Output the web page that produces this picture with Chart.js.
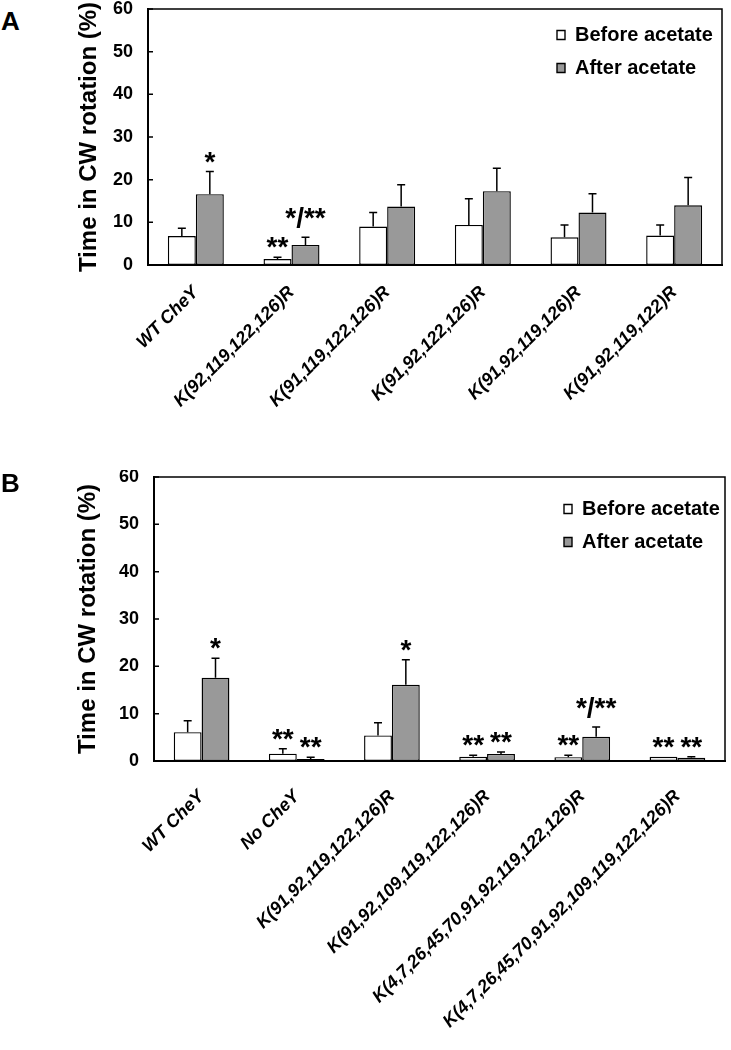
<!DOCTYPE html>
<html>
<head>
<meta charset="utf-8">
<script src="https://cdn.jsdelivr.net/npm/chart.js@4.4.1/dist/chart.umd.min.js"></script>
<style>
  body { margin: 0; background: #fff; }
  #wrap { position: relative; width: 731px; height: 1050px; overflow: hidden; }
  canvas { position: absolute; left: 0; }
  .panel { position: absolute; left: 1px; font: bold 26px "Liberation Sans", Arial, sans-serif; line-height: 26px; color: #000; }
</style>
</head>
<body>
<div id="wrap">
  <div class="panel" style="top:8px">A</div>
  <canvas id="chartA" width="731" height="470" style="top:0"></canvas>
  <div class="panel" style="top:470px">B</div>
  <canvas id="chartB" width="731" height="580" style="top:470px"></canvas>
</div>
<script>
// panel A
const categoriesA = ['WT CheY', 'K(92,119,122,126)R', 'K(91,119,122,126)R', 'K(91,92,122,126)R', 'K(91,92,119,126)R', 'K(91,92,119,122)R'];
const beforeA = [6.8, 1.4, 9.0, 9.4, 6.5, 6.9];
const beforeSdA = [1.8, 0.4, 3.3, 6.1, 2.9, 2.5];
const afterA = [16.6, 4.7, 13.7, 17.3, 12.3, 14.0];
const afterSdA = [5.3, 1.8, 5.1, 5.4, 4.4, 6.5];
const starsBeforeA = ['', '**', '', '', '', ''];
const starsAfterA = ['*', '*/**', '', '', '', ''];

// panel B
const categoriesB = ['WT CheY', 'No CheY', 'K(91,92,119,122,126)R', 'K(91,92,109,119,122,126)R', 'K(4,7,26,45,70,91,92,119,122,126)R', 'K(4,7,26,45,70,91,92,109,119,122,126)R'];
const beforeB = [6.1, 1.55, 5.4, 0.9, 0.8, 0.9];
const beforeSdB = [2.4, 1.05, 2.7, 0.3, 0.4, 0.0];
const afterB = [17.6, 0.4, 16.1, 1.5, 5.1, 0.7];
const afterSdB = [4.1, 0.4, 5.3, 0.4, 2.1, 0.2];
const starsBeforeB = ['', '**', '', '**', '**', '**'];
const starsAfterB = ['*', '**', '*', '**', '*/**', '**'];

const yTicks = [0, 10, 20, 30, 40, 50, 60];

const FONT = '"Liberation Sans", Arial, sans-serif';

// error bars + significance marks
const errorBars = {
  id: 'errorBars',
  afterDatasetsDraw(chart) {
    const ctx = chart.ctx;
    const y = chart.scales.y;
    const sds = chart.options.plugins.errorBars.sd;
    const stars = chart.options.plugins.errorBars.stars;
    ctx.save();
    chart.data.datasets.forEach((ds, i) => {
      const meta = chart.getDatasetMeta(i);
      meta.data.forEach((bar, j) => {
        const top = y.getPixelForValue(ds.data[j] + sds[i][j]);
        if (sds[i][j] > 0) {
          ctx.strokeStyle = '#000';
          ctx.lineWidth = 1.5;
          ctx.beginPath();
          ctx.moveTo(bar.x, bar.y);
          ctx.lineTo(bar.x, top);
          ctx.moveTo(bar.x - 4, top);
          ctx.lineTo(bar.x + 4, top);
          ctx.stroke();
        }
        const s = stars[i][j];
        if (s) {
          ctx.fillStyle = '#000';
          ctx.font = 'bold 28px ' + FONT;
          ctx.textAlign = 'center';
          ctx.textBaseline = 'alphabetic';
          const lift = s.indexOf('/') >= 0 ? 10 : 1;
          ctx.fillText(s, bar.x, top - lift);
        }
      });
    });
    ctx.restore();
  }
};

// plot frame, inward y ticks, legend placed inside the plot area
const frame = {
  id: 'frame',
  afterLayout(chart) {
    const o = chart.options.plugins.frame;
    const lg = chart.legend;
    const a = chart.chartArea;
    lg.left = a.right - o.legendRight;
    lg.right = lg.left + lg.width;
    lg.top = a.top + o.legendTop;
    lg.bottom = lg.top + lg.height;
  },
  afterDraw(chart) {
    const a = chart.chartArea;
    const y = chart.scales.y;
    const ctx = chart.ctx;
    ctx.save();
    ctx.strokeStyle = '#000';
    ctx.lineWidth = 1.5;
    ctx.strokeRect(a.left, a.top, a.right - a.left, a.bottom - a.top);
    ctx.beginPath();
    yTicks.forEach(v => {
      const py = y.getPixelForValue(v);
      ctx.moveTo(a.left, py);
      ctx.lineTo(a.left + 5, py);
    });
    ctx.stroke();
    ctx.restore();
  }
};

function makeChart(id, cats, before, after, sdBefore, sdAfter, stBefore, stAfter, g) {
  return new Chart(document.getElementById(id), {
    type: 'bar',
    data: {
      labels: cats,
      datasets: [
        { label: 'Before acetate', data: before, backgroundColor: '#ffffff', borderColor: '#000', borderWidth: 1.4, borderSkipped: false },
        { label: 'After acetate', data: after, backgroundColor: '#999999', borderColor: '#000', borderWidth: 1.4, borderSkipped: false }
      ]
    },
    options: {
      responsive: false,
      animation: false,
      devicePixelRatio: 1,
      categoryPercentage: 0.585,
      barPercentage: 1.0,
      layout: { padding: { top: g.top, right: g.right, left: 0, bottom: 0 } },
      plugins: {
        tooltip: { enabled: false },
        legend: {
          position: 'chartArea',
          align: 'start',
          labels: {
            color: '#000',
            font: { family: FONT, size: 20, weight: 'bold' },
            boxWidth: 8,
            boxHeight: 9,
            padding: 13
          }
        },
        errorBars: { sd: [sdBefore, sdAfter], stars: [stBefore, stAfter] },
        frame: { legendRight: g.legendRight, legendTop: g.legendTop }
      },
      scales: {
        x: {
          grid: { display: false, drawTicks: false },
          border: { display: true, color: '#000', width: 2 },
          ticks: {
            color: '#000',
            font: { family: FONT, size: 18, weight: 'bold', style: 'italic' },
            minRotation: 45,
            maxRotation: 45,
            autoSkip: false,
            padding: g.labelPad
          },
          afterFit(s) { s.height = g.xHeight; s.paddingLeft = 0; s.paddingRight = 0; }
        },
        y: {
          min: 0,
          max: 60,
          grid: { display: false, drawTicks: false },
          border: { display: true, color: '#000', width: 2 },
          afterBuildTicks(s) { s.ticks = yTicks.map(v => ({ value: v })); },
          ticks: {
            color: '#000',
            font: { family: FONT, size: 18, weight: 'bold' },
            padding: 15
          },
          title: {
            display: true,
            text: 'Time in CW rotation (%)',
            color: '#000',
            font: { family: FONT, size: 24, weight: 'bold' },
            padding: { top: g.titlePad, bottom: 0 }
          },
          afterFit(s) { s.width = g.yWidth; s.paddingTop = 0; s.paddingBottom = 0; }
        }
      }
    },
    plugins: [errorBars, frame]
  });
}

makeChart('chartA', categoriesA, beforeA, afterA, beforeSdA, afterSdA, starsBeforeA, starsAfterA,
  { top: 9, right: 9, yWidth: 148, xHeight: 205, titlePad: 75, labelPad: 17, legendRight: 178, legendTop: 3 });
makeChart('chartB', categoriesB, beforeB, afterB, beforeSdB, afterSdB, starsBeforeB, starsAfterB,
  { top: 7, right: 6, yWidth: 154, xHeight: 289, titlePad: 74, labelPad: 25, legendRight: 174, legendTop: 9 });
</script>
</body>
</html>
